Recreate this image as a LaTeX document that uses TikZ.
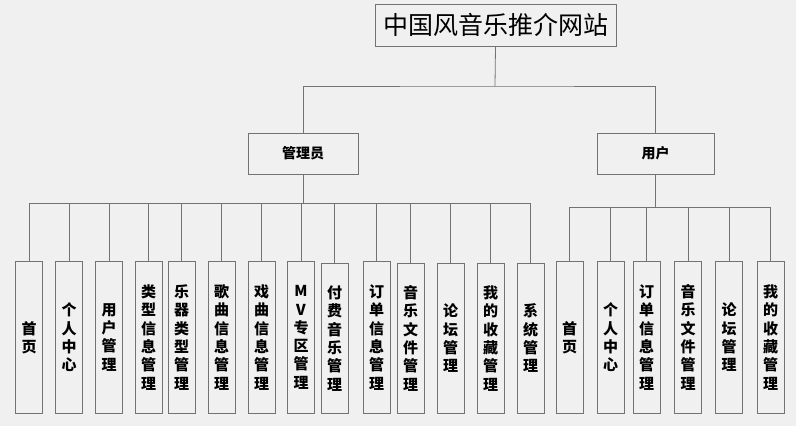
\documentclass[tikz,border=0pt]{standalone}
\usepackage{fontspec}
\newfontfamily\cjk{Noto Sans CJK SC}
\definecolor{bgc}{HTML}{F0F0F0}
\definecolor{linec}{HTML}{737373}
\tikzset{
	box/.style={draw=linec, line width=0.8pt, inner sep=0pt, font=\cjk\bfseries\fontsize{14}{16}\selectfont},
	leaf/.style={draw=linec, line width=0.8pt, anchor=north, minimum width=27pt, minimum height=152pt, inner sep=0pt, align=center, font=\cjk\bfseries\fontsize{15}{18.3}\selectfont},
	wire/.style={draw=linec, line width=0.8pt}
}

\begin{document}
\begin{tikzpicture}[x=1pt,y=-1pt]
		\fill[bgc] (0,0) rectangle (796,426);
		\useasboundingbox (0,0) rectangle (796,426);
		\node[box, minimum width=241pt, minimum height=42pt, font=\cjk\fontsize{25}{28}\selectfont] (root) at (495.5,25) {中国风音乐推介网站};
		\node[box, minimum width=110pt, minimum height=41pt] (admin) at (303,153.5) {管理员};
		\node[box, minimum width=117pt, minimum height=41pt] (user) at (655.5,153.5) {用户};
		\coordinate (top) at (495,86);
		\coordinate (abus) at (303,203);
		\coordinate (ubus) at (655.5,207);

		\node[leaf] (a1) at (29,261) {首\\页};
		\node[leaf] (a2) at (69,261) {个\\人\\中\\心};
		\node[leaf] (a3) at (109,261) {用\\户\\管\\理};
		\node[leaf] (a4) at (148.5,261) {类\\型\\信\\息\\管\\理};
		\node[leaf] (a5) at (181.5,261) {乐\\器\\类\\型\\管\\理};
		\node[leaf] (a6) at (221.5,261) {歌\\曲\\信\\息\\管\\理};
		\node[leaf] (a7) at (261.5,261) {戏\\曲\\信\\息\\管\\理};
		\node[leaf] (a8) at (301,261) {M\\V\\专\\区\\管\\理};
		\node[leaf, minimum height=150pt] (a9) at (334.5,263) {付\\费\\音\\乐\\管\\理};
		\node[leaf] (a10) at (376.5,261) {订\\单\\信\\息\\管\\理};
		\node[leaf, minimum height=150pt] (a11) at (410.5,263) {音\\乐\\文\\件\\管\\理};
		\node[leaf, minimum height=150pt] (a12) at (450.5,263) {论\\坛\\管\\理};
		\node[leaf, minimum height=150pt] (a13) at (490.5,263) {我\\的\\收\\藏\\管\\理};
		\node[leaf, minimum height=150pt] (a14) at (530.5,263) {系\\统\\管\\理};

		\node[leaf] (u1) at (569.5,261) {首\\页};
		\node[leaf] (u2) at (610.5,261) {个\\人\\中\\心};
		\node[leaf] (u3) at (646.5,261) {订\\单\\信\\息\\管\\理};
		\node[leaf] (u4) at (688,261) {音\\乐\\文\\件\\管\\理};
		\node[leaf] (u5) at (729,261) {论\\坛\\管\\理};
		\node[leaf] (u6) at (770.5,261) {我\\的\\收\\藏\\管\\理};

		\draw[wire] (root.south) -- (top);
		\draw[wire] (admin.north) |- (top) -| (user.north);
		\draw[wire] (admin.south) -- (abus);
		\draw[wire] (user.south) -- (ubus);
		\draw[wire] (a1.north) |- (abus) (a2.north) |- (abus) (a3.north) |- (abus) (a4.north) |- (abus) (a5.north) |- (abus) (a6.north) |- (abus) (a7.north) |- (abus);
		\draw[wire] (a8.north) |- (abus) (a9.north) |- (abus) (a10.north) |- (abus) (a11.north) |- (abus) (a12.north) |- (abus) (a13.north) |- (abus) (a14.north) |- (abus);
		\draw[wire] (u1.north) |- (ubus) (u2.north) |- (ubus) (u3.north) |- (ubus) (u4.north) |- (ubus) (u5.north) |- (ubus) (u6.north) |- (ubus);
\end{tikzpicture}
\end{document}
